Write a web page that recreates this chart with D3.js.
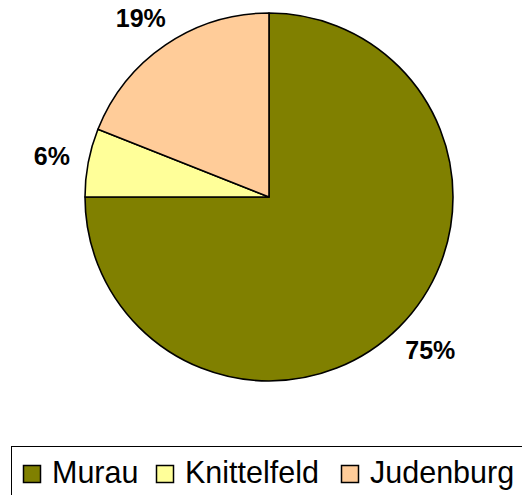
<!DOCTYPE html>
<html>
<head>
<meta charset="utf-8">
<script src="https://cdn.jsdelivr.net/npm/d3@7"></script>
<style>
  body { margin: 0; background: #fff; }
  svg { display: block; }
</style>
</head>
<body>
<div id="chart"></div>
<script>
// chart data
const regions = ["Murau", "Knittelfeld", "Judenburg"];
const shares = [75, 6, 19];
const sliceColors = ["#808000", "#FFFF99", "#FFCC99"];

const width = 522, height = 495;
const cx = 269, cy = 197, radius = 184;

const svg = d3.select("#chart").append("svg")
    .attr("width", width)
    .attr("height", height);

const pie = d3.pie().sort(null).value(d => d.value);
const arc = d3.arc().innerRadius(0).outerRadius(radius);

const data = regions.map((r, i) => ({ name: r, value: shares[i], color: sliceColors[i] }));
const arcs = pie(data);

const g = svg.append("g").attr("transform", `translate(${cx},${cy})`);

g.selectAll("path.slice")
    .data(arcs)
    .enter().append("path")
    .attr("class", "slice")
    .attr("d", arc)
    .attr("fill", d => d.data.color)
    .attr("stroke", "#000")
    .attr("stroke-width", 1.6)
    .attr("stroke-linejoin", "round");

// percent labels, pushed outward so the text box sits just outside the pie
const labelR = 203;
const labels = g.selectAll("text.pct")
    .data(arcs)
    .enter().append("text")
    .attr("class", "pct")
    .attr("text-anchor", "middle")
    .attr("dy", "0.36em")
    .style("font-family", "Arial, 'Liberation Sans', sans-serif")
    .style("font-weight", "bold")
    .style("font-size", "25px")
    .text(d => d.data.value + "%");

labels.attr("transform", function (d) {
    const a = (d.startAngle + d.endAngle) / 2;
    const dx = Math.sin(a), dy = -Math.cos(a);
    const bb = this.getBBox();
    const x = dx * labelR + dx * bb.width / 2;
    const y = dy * labelR + dy * bb.height / 2;
    return `translate(${x},${y})`;
});

// legend
const legend = svg.append("g");
legend.append("rect")
    .attr("x", 11.5)
    .attr("y", 446.5)
    .attr("width", 530)
    .attr("height", 70)
    .attr("fill", "#fff")
    .attr("stroke", "#000")
    .attr("stroke-width", 1);

const legendX = [23, 156, 341];
const items = legend.selectAll("g.item")
    .data(data)
    .enter().append("g")
    .attr("class", "item")
    .attr("transform", (d, i) => `translate(${legendX[i]},0)`);

items.append("rect")
    .attr("x", 0.5)
    .attr("y", 465.5)
    .attr("width", 17)
    .attr("height", 17)
    .attr("fill", d => d.color)
    .attr("stroke", "#000")
    .attr("stroke-width", 1.5);

items.append("text")
    .attr("x", 29)
    .attr("y", 483)
    .style("font-family", "Arial, 'Liberation Sans', sans-serif")
    .style("font-size", "30.5px")
    .text(d => d.name);
</script>
</body>
</html>
